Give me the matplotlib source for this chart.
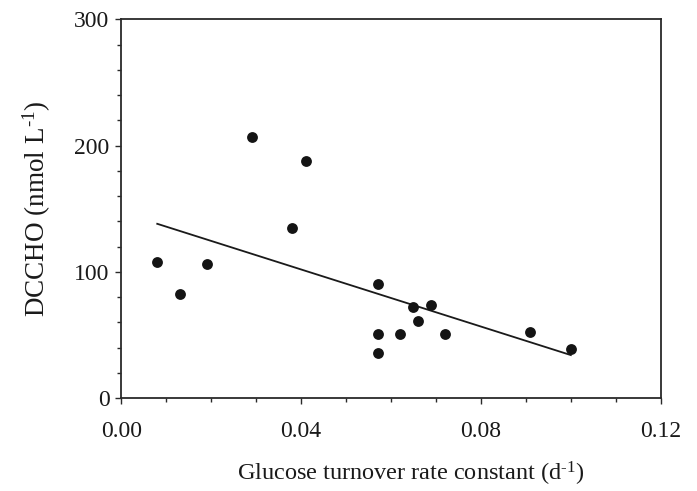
import matplotlib
matplotlib.use("Agg")
import matplotlib.pyplot as plt
from matplotlib.ticker import MultipleLocator, FormatStrFormatter

plt.rcParams["font.family"] = ["Liberation Serif", "DejaVu Serif"]
plt.rcParams["mathtext.fontset"] = "custom"
plt.rcParams["mathtext.rm"] = "Liberation Serif"
plt.rcParams["mathtext.default"] = "rm"

# Glucose turnover rate constant (d^-1) and DCCHO concentration (nmol L^-1)
turnover = [0.008, 0.013, 0.019, 0.029, 0.041, 0.038, 0.057, 0.057, 0.057,
            0.062, 0.065, 0.066, 0.069, 0.072, 0.091, 0.100]
dccho = [108, 82, 106.5, 207, 187.5, 134.5, 90.5, 50.5, 35.5,
         50.5, 72, 61, 74, 50.5, 52, 39]

# Regression line end points
fit_x = [0.008, 0.100]
fit_y = [138, 34]

fig = plt.figure(figsize=(6.97, 4.91), dpi=100)
ax = fig.add_axes([0.174, 0.1894, 0.774, 0.7713])

ax.plot(fit_x, fit_y, color="#1a1a1a", lw=1.3, zorder=2)
ax.plot(turnover, dccho, "o", color="#141414", markersize=7.8,
        markeredgewidth=0, zorder=3)

ax.set_xlim(0, 0.12)
ax.set_ylim(0, 300)
ax.xaxis.set_major_locator(MultipleLocator(0.04))
ax.xaxis.set_minor_locator(MultipleLocator(0.01))
ax.yaxis.set_major_locator(MultipleLocator(100))
ax.yaxis.set_minor_locator(MultipleLocator(20))
ax.xaxis.set_major_formatter(FormatStrFormatter("%.2f"))

for s in ax.spines.values():
    s.set_linewidth(1.3)
    s.set_color("#2a2a2a")

ax.tick_params(axis="both", which="major", direction="out", length=4.5,
               width=1.0, color="#2a2a2a", labelsize=17, labelcolor="#1a1a1a")
ax.tick_params(axis="both", which="minor", direction="out", length=3,
               width=1.0, color="#2a2a2a")
ax.tick_params(axis="x", which="major", pad=12)
ax.tick_params(axis="y", which="major", pad=4)

sup = r"$^{\text{-}1}$"
ax.set_xlabel("Glucose turnover rate constant (d" + sup + ")", fontsize=17.5,
              color="#1a1a1a", labelpad=13)
ax.xaxis.label.set_x(0.537)
ax.set_ylabel("DCCHO (nmol L" + sup + ")", fontsize=19.5, color="#1a1a1a",
              labelpad=15)

fig.savefig("out.png", dpi=100)
